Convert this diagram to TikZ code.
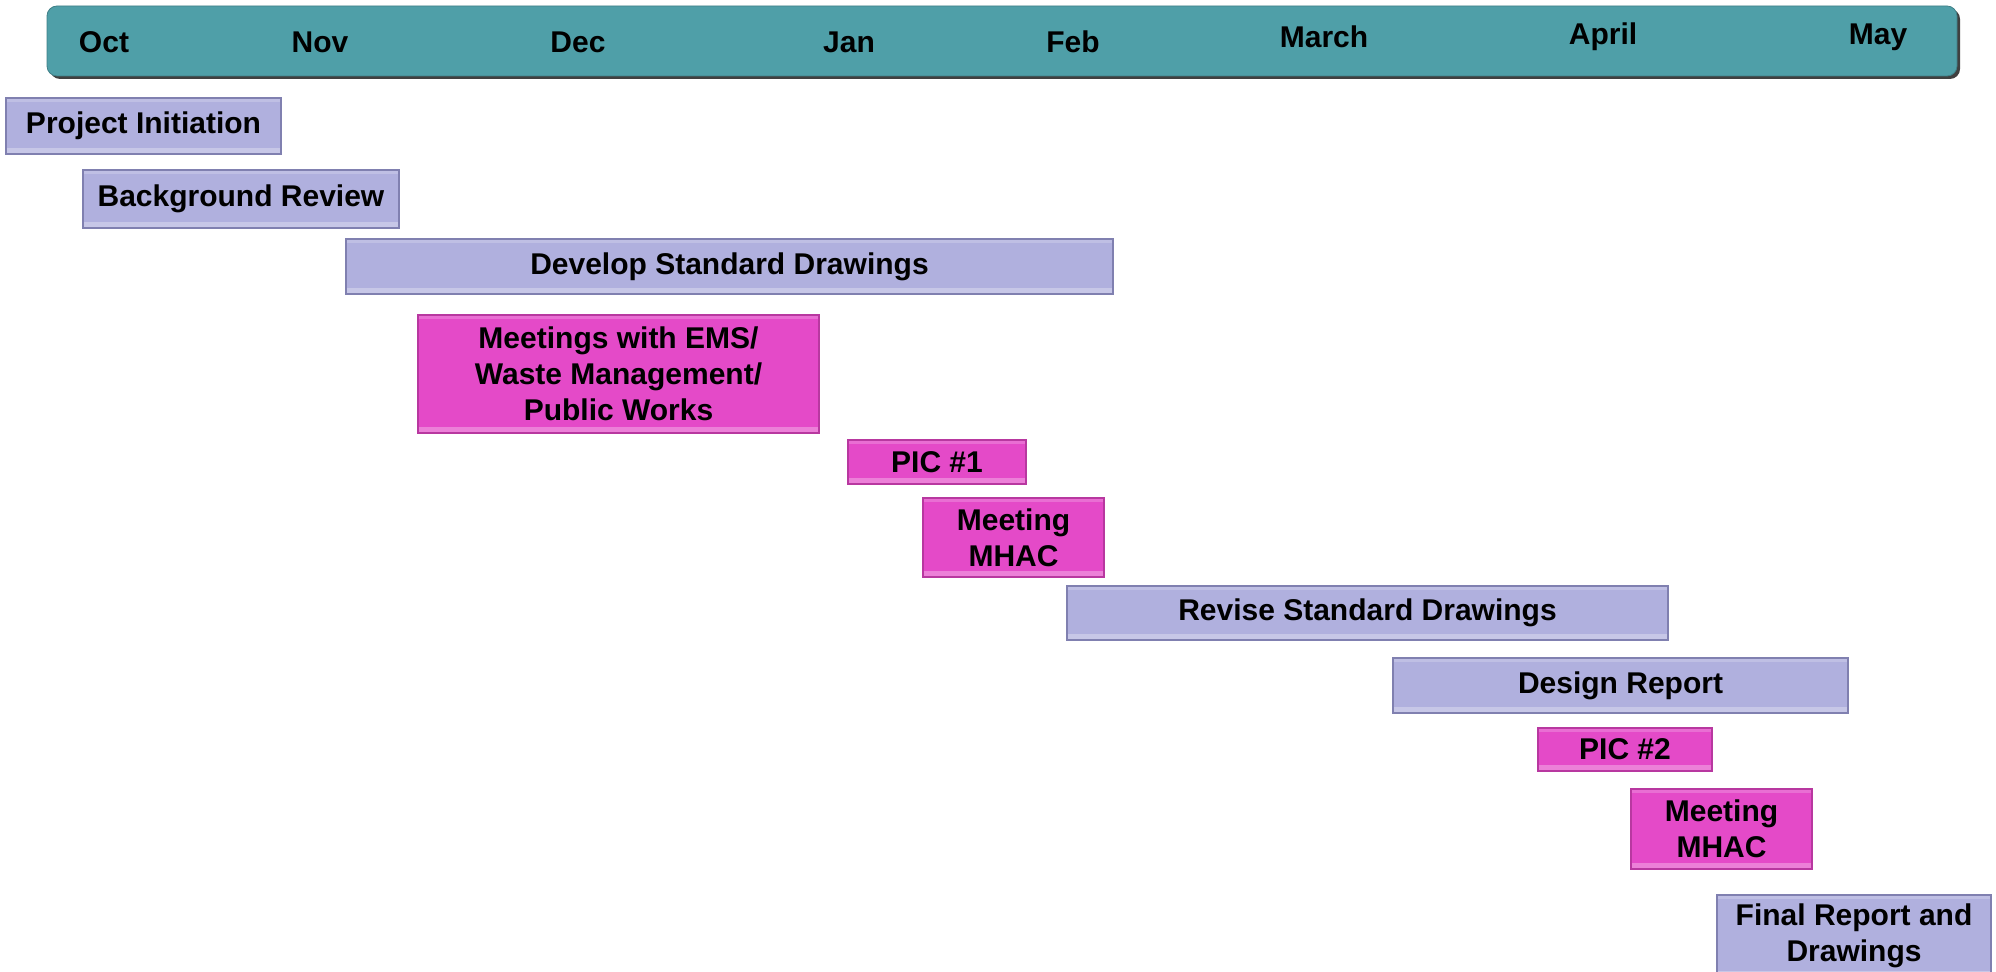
\documentclass[tikz,border=0pt]{standalone}
\usepackage{fontspec}
\setmainfont{Liberation Sans}
\usetikzlibrary{positioning}
\definecolor{barblue}{RGB}{176,176,222}
\definecolor{baredge}{RGB}{128,128,176}
\definecolor{barpink}{RGB}{228,74,200}
\definecolor{pinkedge}{RGB}{184,56,160}
\definecolor{headteal}{RGB}{79,159,168}
\tikzset{
  bevel/.style={path picture={
    \fill[white, opacity=0.3] (path picture bounding box.south west) rectangle ([yshift=3pt]path picture bounding box.south east);
    \fill[white, opacity=0.2] (path picture bounding box.north west) rectangle ([yshift=-2pt]path picture bounding box.north east);}},
  task/.style={draw=baredge, fill=barblue, line width=1pt, inner sep=0pt, bevel,
    align=center, font=\fontsize{15}{18}\selectfont\bfseries},
  meet/.style={task, draw=pinkedge, fill=barpink},
  month/.style={font=\fontsize{15}{18}\selectfont\bfseries}
}

\begin{document}
\begin{tikzpicture}[x=0.5pt,y=-0.5pt]
\clip (0,0) rectangle (1996,972);
% month header
\node[rounded corners=5pt, fill=black!75, minimum width=955pt, minimum height=35pt] (shadow) at (1005,44) {};
\node[rounded corners=5pt, fill=headteal, draw=headteal!80!black, minimum width=955pt, minimum height=35pt] (header) at (1002,41) {};
\node[month] (oct) at (104,42) {Oct};
\node[month] (nov) at (320,42) {Nov};
\node[month] (dec) at (578,42) {Dec};
\node[month] (jan) at (849,42) {Jan};
\node[month] (feb) at (1073,42) {Feb};
\node[month] (mar) at (1324,37) {March};
\node[month] (apr) at (1603,37) {April};
\node[month] (may) at (1878,37) {May};
% tasks
\node[task, minimum width=137.5pt, minimum height=28pt] (init) at (143.5,126) {Project Initiation};
\node[task, minimum width=158pt, minimum height=29pt] (review) at (241,199) {Background Review};
\node[task, minimum width=383.5pt, minimum height=27.5pt] (develop) at (729.5,266.5) {Develop Standard Drawings};
\node[meet, minimum width=200.5pt, minimum height=59pt] (ems) at (618.5,374) {Meetings with EMS/\\Waste Management/\\Public Works};
\node[meet, minimum width=89pt, minimum height=22pt] (pic1) at (937,462) {PIC \#1};
\node[meet, minimum width=90.5pt, minimum height=39.5pt] (mhac1) at (1013.5,537.5) {Meeting\\MHAC};
\node[task, minimum width=300.5pt, minimum height=27pt] (revise) at (1367.5,613) {Revise Standard Drawings};
\node[task, minimum width=227.5pt, minimum height=27.5pt] (design) at (1620.5,685.5) {Design Report};
\node[meet, minimum width=87pt, minimum height=21.5pt] (pic2) at (1625,749.5) {PIC \#2};
\node[meet, minimum width=90.5pt, minimum height=40pt] (mhac2) at (1721.5,829) {Meeting\\MHAC};
\node[task, minimum width=137pt, minimum height=41pt] (final) at (1854,936) {Final Report and\\Drawings};
\end{tikzpicture}
\end{document}
